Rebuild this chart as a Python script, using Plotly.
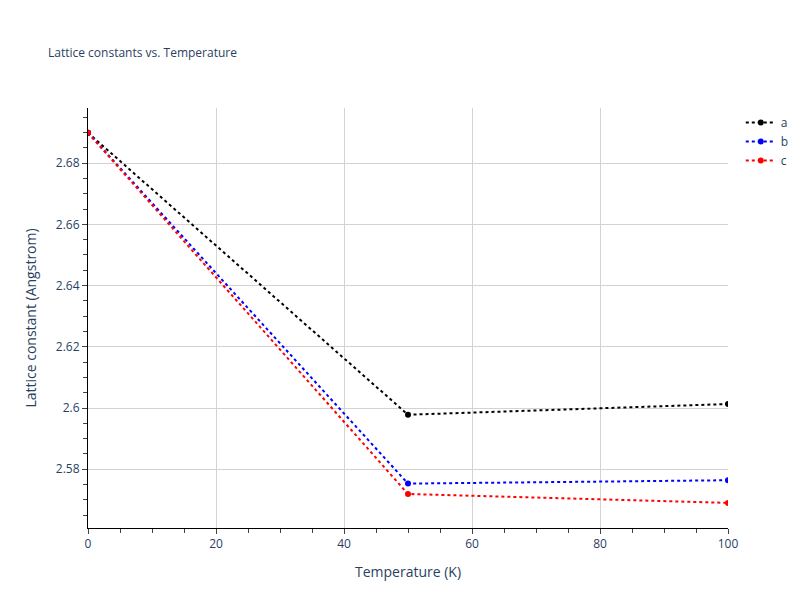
import plotly.graph_objects as go

temps = [0, 50, 100]
a_vals = [2.6899, 2.5978, 2.6013]
b_vals = [2.6899, 2.5753, 2.5764]
c_vals = [2.6899, 2.5719, 2.5690]

fig = go.Figure()
for name, vals, col in [("a", a_vals, "black"), ("b", b_vals, "blue"), ("c", c_vals, "red")]:
    fig.add_trace(go.Scatter(x=temps, y=vals, name=name, mode="lines+markers",
                             line=dict(color=col, dash="dot", width=2),
                             marker=dict(color=col, size=6)))

axis_style = dict(showline=True, linecolor="black", ticks="outside", gridcolor="lightgray",
                  minor=dict(ticks="outside", ticklen=4, showgrid=False), zeroline=False)
fig.update_layout(
    title=dict(text="Lattice constants vs. Temperature", font=dict(size=12),
               x=0.05, xanchor="left", y=0.925, yanchor="middle"),
    font=dict(family="Open Sans"),
    plot_bgcolor="white", paper_bgcolor="white",
    width=800, height=600,
    margin=dict(l=80, r=80, t=100, b=80),
    xaxis=dict(title="Temperature (K)", range=[0, 100], **axis_style),
    yaxis=dict(title="Lattice constant (Angstrom)", range=[2.5608, 2.698], dtick=0.02, **axis_style),
)
fig.write_html("out.html")
